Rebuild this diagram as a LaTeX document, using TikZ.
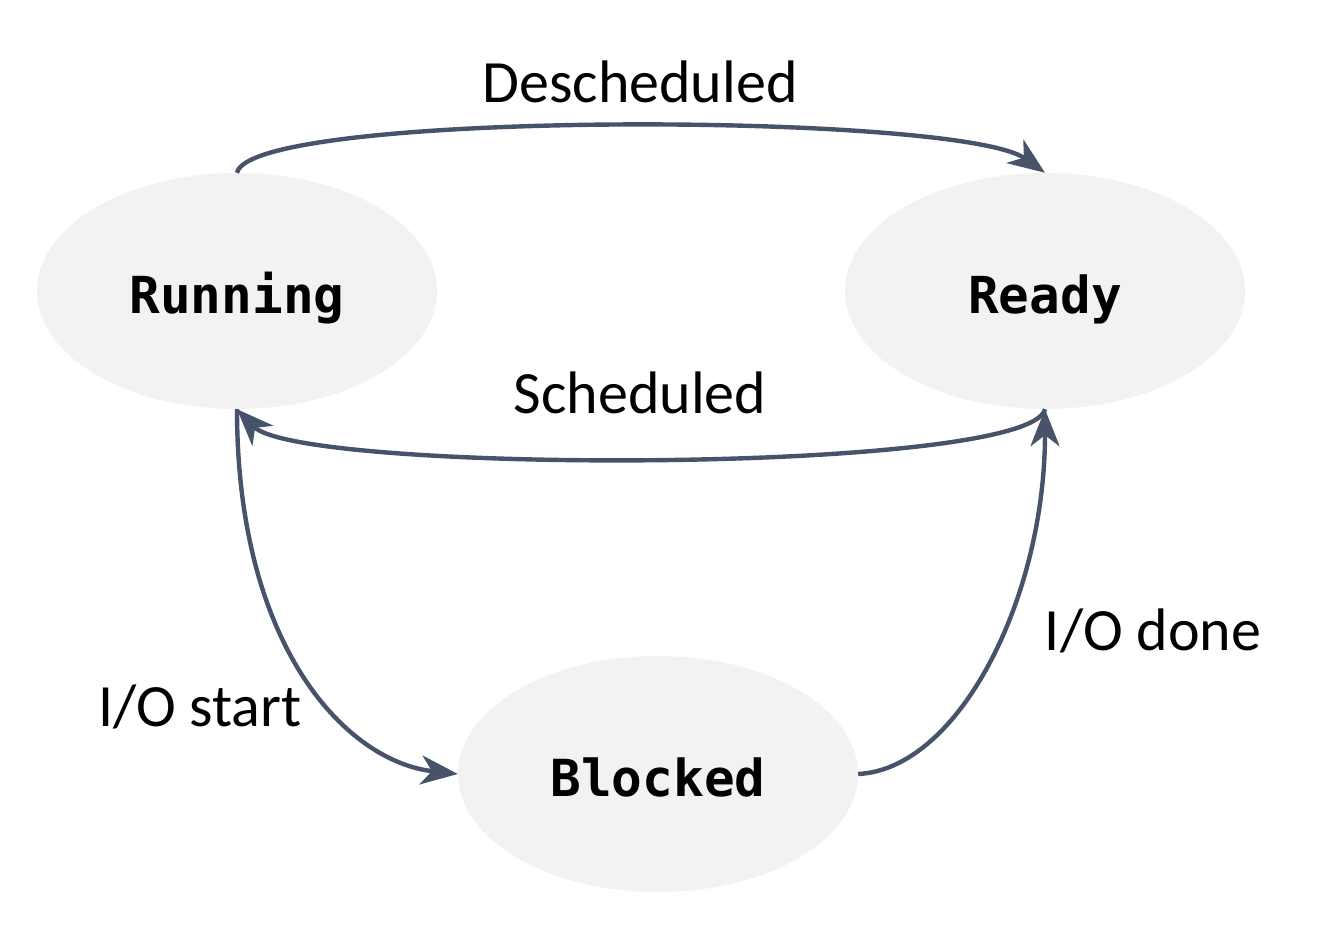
\documentclass[tikz,border=0pt]{standalone}
\usepackage{fontspec}
\setmainfont{Carlito}
\newfontfamily\statefont{DejaVu Sans Mono}
\usetikzlibrary{shapes.geometric,arrows.meta}
\definecolor{edgecol}{HTML}{465369}
\definecolor{statefill}{HTML}{F2F2F2}
\tikzset{
  state/.style={ellipse, fill=statefill, draw=none, minimum width=400pt,
    minimum height=236pt, inner sep=0pt, text height=44pt, text depth=0pt,
    font=\statefont\bfseries\fontsize{51}{60}\selectfont},
  trans/.style={draw=edgecol, line width=4.4pt,
    -{Stealth[length=37pt, width=29pt, inset=11pt]}},
  lbl/.style={font=\fontsize{60}{72}\selectfont, inner sep=0pt}
}
\begin{document}
\begin{tikzpicture}[x=1pt, y=-1pt]
  \useasboundingbox (0,0) rectangle (1328,934);

  % states
  \node[state] (run) at (237,291) {Running};
  \node[state] (rdy) at (1045,291) {Ready};
  \node[state] (blk) at (658,774) {Blocked};

  % transitions
  \draw[trans] (run.north) .. controls +(13,-63) and +(-85,-61) .. (rdy.north);
  \draw[trans] (rdy.south) .. controls +(-15,65) and +(63,65) .. (run.south);
  \draw[trans] (run.south) .. controls +(0,240) and +(-110,-12) .. (blk.west);
  \draw[trans] (blk.east) .. controls +(100,-5) and +(0,190) .. (rdy.south);

  % transition labels
  \node[lbl] (ldes) at (640,82) {Descheduled};
  \node[lbl] (lsch) at (640,393) {Scheduled};
  \node[lbl] (lios) at (200,707) {I/O start};
  \node[lbl] (liod) at (1153,631) {I/O done};
\end{tikzpicture}
\end{document}
